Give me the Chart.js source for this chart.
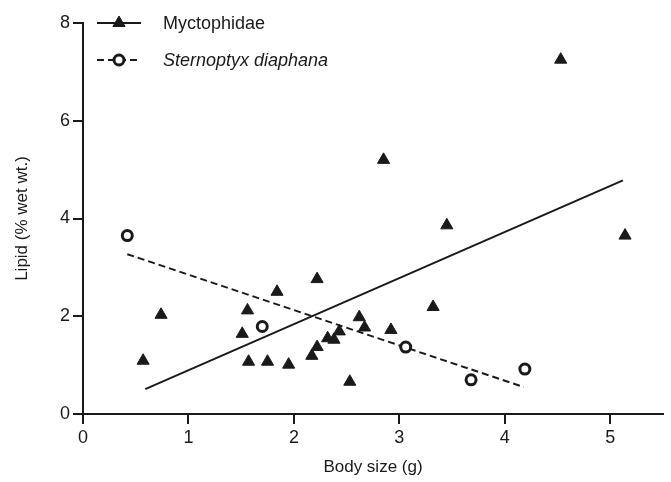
<!DOCTYPE html>
<html>
<head>
<meta charset="utf-8">
<script src="https://cdn.jsdelivr.net/npm/chart.js@4/dist/chart.umd.min.js"></script>
<style>
  html, body { margin: 0; padding: 0; background: #fff; }
  #wrap { width: 671px; height: 482px; position: relative; }
</style>
</head>
<body>
<div id="wrap"><canvas id="lipid-chart"></canvas></div>
<script>
// Series names for the legend
let seriesNames = ["Myctophidae", "Sternoptyx diaphana"];

// Myctophidae points (body size g, lipid % wet wt.)
let mycX = [0.57, 0.74, 1.51, 1.56, 1.57, 1.75, 1.84, 1.95, 2.17, 2.22, 2.22, 2.32, 2.38, 2.43, 2.53, 2.62, 2.67, 2.85, 2.92, 3.32, 3.45, 4.53, 5.14];
let mycY = [1.09, 2.03, 1.64, 2.12, 1.07, 1.07, 2.50, 1.01, 1.19, 1.37, 2.76, 1.55, 1.52, 1.69, 0.66, 1.98, 1.77, 5.20, 1.72, 2.19, 3.86, 7.25, 3.65];

// Sternoptyx diaphana points
let sternX = [0.42, 1.70, 3.06, 3.68, 4.19];
let sternY = [3.65, 1.79, 1.37, 0.70, 0.92];

// End points of the fitted regression lines
let mycFitX = [0.59, 5.12];
let mycFitY = [0.51, 4.78];
let sternFitX = [0.42, 4.18];
let sternFitY = [3.27, 0.55];

// Axis ticks
let xTicks = [0, 1, 2, 3, 4, 5];
let yTicks = [0, 2, 4, 6, 8];

const ink = "#1a1a1a";
const fontFamily = "'Liberation Sans', Arial, sans-serif";

function toPoints(xs, ys) {
    let pts = [];
    for (let i = 0; i < xs.length; i++) {
        pts.push({ x: xs[i], y: ys[i] });
    }
    return pts;
}

// Draws the legend in the top left corner, with the second name in italics
const legendPlugin = {
    id: "lipidLegend",
    afterDraw(chart) {
        const ctx = chart.ctx;
        const rows = [
            { y: 23, dash: [], style: "triangle", radius: 7, italic: false },
            { y: 60, dash: [7, 4], style: "circle", radius: 5, italic: true }
        ];
        ctx.save();
        for (let i = 0; i < rows.length; i++) {
            const r = rows[i];
            ctx.strokeStyle = ink;
            ctx.lineWidth = 2;
            ctx.setLineDash(r.dash);
            ctx.beginPath();
            ctx.moveTo(97, r.y);
            ctx.lineTo(141, r.y);
            ctx.stroke();
            ctx.setLineDash([]);
            ctx.fillStyle = r.style == "circle" ? "#fff" : ink;
            ctx.lineWidth = r.style == "circle" ? 3 : 1;
            Chart.helpers.drawPoint(ctx, { pointStyle: r.style, radius: r.radius, borderWidth: ctx.lineWidth, rotation: 0 }, 119, r.y);
            ctx.fillStyle = ink;
            ctx.font = (r.italic ? "italic " : "") + "18px " + fontFamily;
            ctx.textBaseline = "middle";
            ctx.textAlign = "left";
            ctx.fillText(seriesNames[i], 163, r.y + 1);
        }
        ctx.restore();
    }
};

new Chart("lipid-chart", {
    type: "scatter",
    data: {
        datasets: [
            {
                label: seriesNames[0],
                data: toPoints(mycX, mycY),
                pointStyle: "triangle",
                pointRadius: 7,
                backgroundColor: ink,
                borderColor: ink,
                borderWidth: 1,
                order: 1
            },
            {
                label: seriesNames[1],
                data: toPoints(sternX, sternY),
                pointStyle: "circle",
                pointRadius: 5,
                backgroundColor: "#fff",
                borderColor: ink,
                borderWidth: 3,
                order: 0
            },
            {
                label: "Myctophidae fit",
                type: "line",
                data: toPoints(mycFitX, mycFitY),
                borderColor: ink,
                borderWidth: 2,
                pointRadius: 0,
                order: 3
            },
            {
                label: "Sternoptyx fit",
                type: "line",
                data: toPoints(sternFitX, sternFitY),
                borderColor: ink,
                borderWidth: 2,
                borderDash: [7, 4],
                pointRadius: 0,
                order: 2
            }
        ]
    },
    options: {
        responsive: true,
        maintainAspectRatio: false,
        animation: false,
        layout: {
            padding: { top: 23, right: 4, left: 0, bottom: 0 }
        },
        plugins: {
            legend: { display: false },
            tooltip: { enabled: false }
        },
        scales: {
            x: {
                type: "linear",
                min: 0,
                max: 5.5,
                afterFit(scale) { scale.height = 68; },
                afterBuildTicks(scale) { scale.ticks = xTicks.map(v => ({ value: v })); },
                border: { display: true, color: ink, width: 2 },
                grid: { drawOnChartArea: false, drawTicks: true, tickLength: 10, color: ink, lineWidth: 2 },
                ticks: { color: ink, font: { family: fontFamily, size: 18 }, padding: 3 },
                title: { display: true, text: "Body size (g)", color: ink, font: { family: fontFamily, size: 17 }, padding: { top: 4 } }
            },
            y: {
                type: "linear",
                min: 0,
                max: 8,
                afterFit(scale) { scale.width = 83; },
                afterBuildTicks(scale) { scale.ticks = yTicks.map(v => ({ value: v })); },
                border: { display: true, color: ink, width: 2 },
                grid: { drawOnChartArea: false, drawTicks: true, tickLength: 10, color: ink, lineWidth: 2 },
                ticks: { color: ink, font: { family: fontFamily, size: 18 }, padding: 3 },
                title: { display: true, text: "Lipid (% wet wt.)", color: ink, font: { family: fontFamily, size: 17 }, padding: { top: 12 } }
            }
        }
    },
    plugins: [legendPlugin]
});
</script>
</body>
</html>
